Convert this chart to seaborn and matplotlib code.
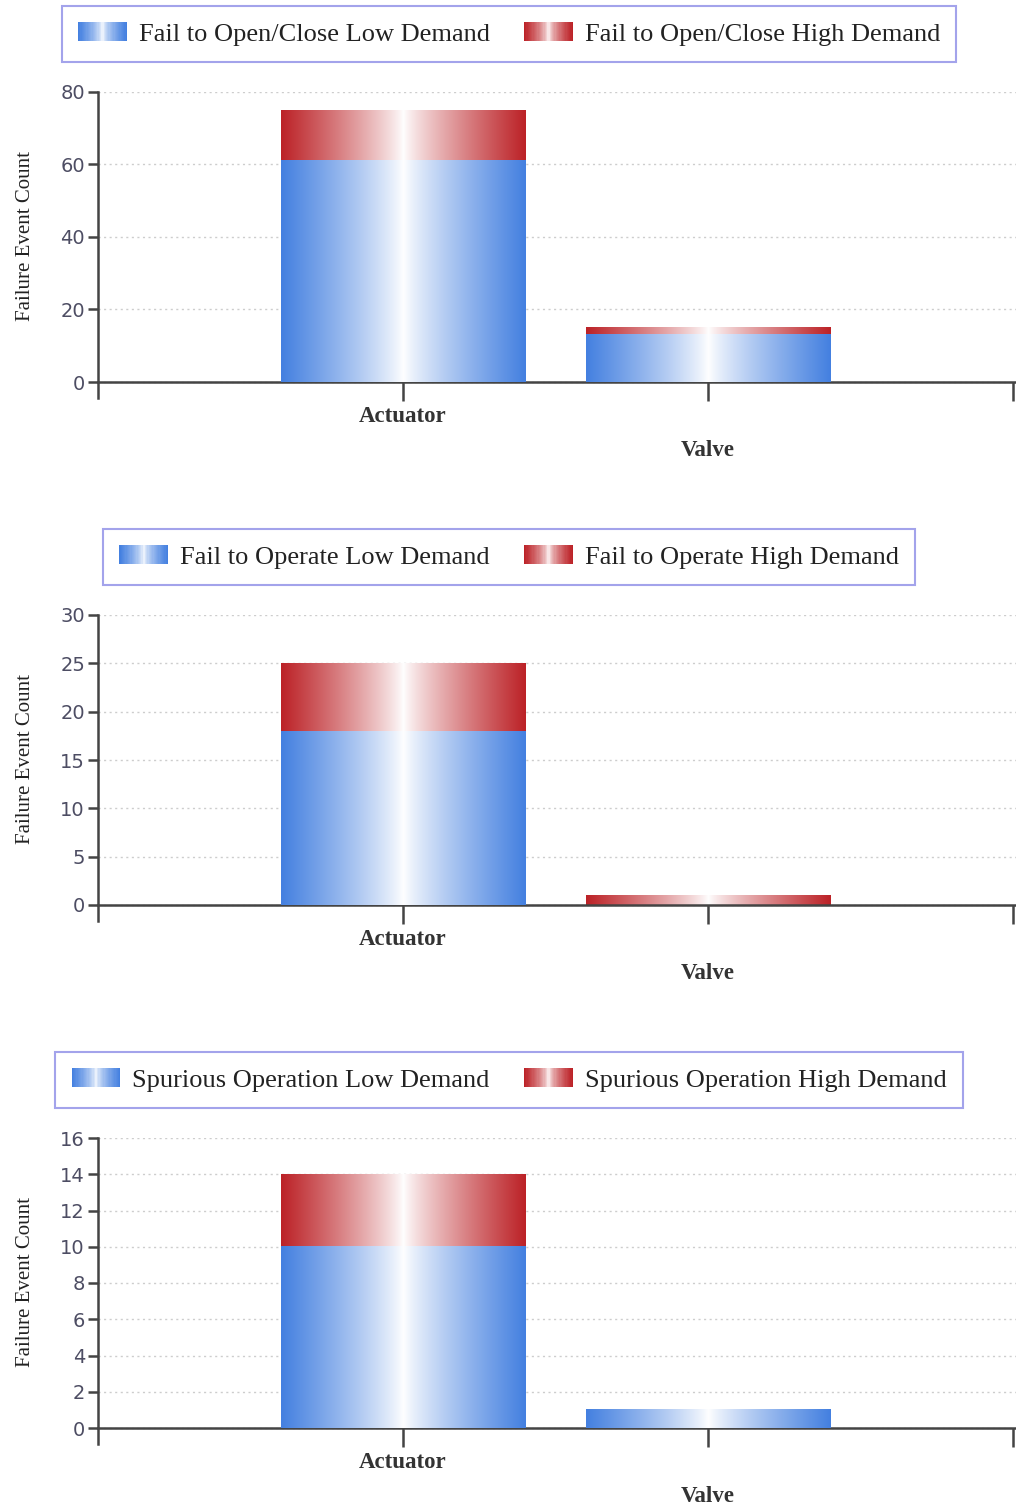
import numpy as np
import pandas as pd
import matplotlib
matplotlib.use("Agg")
import matplotlib.pyplot as plt
import matplotlib.transforms as mtransforms
from matplotlib.colors import to_rgb
from matplotlib.legend_handler import HandlerBase
from matplotlib.patches import Patch, Rectangle
import seaborn as sns

# ---- data -------------------------------------------------------------
components = ["Actuator", "Valve"]

open_close_low = [61, 13]
open_close_high = [14, 2]
operate_low = [18, 0]
operate_high = [7, 1]
spurious_low = [10, 1]
spurious_high = [4, 0]

open_close_labels = ["Fail to Open/Close Low Demand", "Fail to Open/Close High Demand"]
operate_labels = ["Fail to Operate Low Demand", "Fail to Operate High Demand"]
spurious_labels = ["Spurious Operation Low Demand", "Spurious Operation High Demand"]

y_tops = [80, 30, 16]
y_steps = [20, 5, 2]
y_label = "Failure Event Count"

# ---- style ------------------------------------------------------------
BLUE = "#4480e0"
RED = "#bc2227"
SPINE = "#444444"

sns.set_theme(style="white")
plt.rcParams["font.family"] = ["DejaVu Sans"]
SERIF = ["Liberation Serif", "DejaVu Serif"]


def gradient_rgb(color, n=256, power=0.85):
    """Horizontal fill: saturated at both edges, white in the middle."""
    u = np.linspace(0.0, 1.0, n)
    t = np.abs(2.0 * u - 1.0) ** power
    c = np.array(to_rgb(color))
    return (1.0 - t)[:, None] * np.ones(3) + t[:, None] * c


def fill_gradient(ax, patch, color, z):
    x, y = patch.get_x(), patch.get_y()
    w, h = patch.get_width(), patch.get_height()
    patch.set_facecolor("none")
    patch.set_edgecolor("none")
    if h <= 0:
        return
    img = gradient_rgb(color)[None, :, :]
    ax.imshow(img, extent=[x, x + w, y, y + h], aspect="auto",
              origin="lower", zorder=z, interpolation="bilinear")


class GradientHandler(HandlerBase):
    def create_artists(self, legend, orig_handle, xdescent, ydescent,
                       width, height, fontsize, trans):
        colors = gradient_rgb(orig_handle.get_facecolor(), n=40, power=0.6)
        n = len(colors)
        step = width / n
        arts = []
        for i, c in enumerate(colors):
            r = Rectangle((-xdescent + i * step, -ydescent), step * 1.05, height,
                          facecolor=c, edgecolor="none", lw=0, transform=trans)
            arts.append(r)
        return arts


panels = [
    (open_close_low, open_close_high, open_close_labels),
    (operate_low, operate_high, operate_labels),
    (spurious_low, spurious_high, spurious_labels),
]

fig = plt.figure(figsize=(10.16, 15.10), dpi=100)
ax_left = 97.5 / 1016
ax_width = 1.0 - ax_left
ax_height = 306 / 1510
ax_bottoms = [(1510 - 398) / 1510, (1510 - 921) / 1510, (1510 - 1444) / 1510]
spine_ext = 16 / 290  # left spine runs a little below zero

for (low, high, labels), top, step, bottom in zip(panels, y_tops, y_steps, ax_bottoms):
    ax = fig.add_axes([ax_left, bottom, ax_width, ax_height])

    total = [a + b for a, b in zip(low, high)]
    df = pd.DataFrame({"component": components, "low": low, "total": total})

    sns.barplot(data=df, x="component", y="total", order=components,
                color=RED, width=0.8, errorbar=None, ax=ax, zorder=2)
    n_red = len(ax.patches)
    sns.barplot(data=df, x="component", y="low", order=components,
                color=BLUE, width=0.8, errorbar=None, ax=ax, zorder=3)

    for i, p in enumerate(list(ax.patches)):
        if i < n_red:
            fill_gradient(ax, p, RED, 2)
        else:
            fill_gradient(ax, p, BLUE, 3)

    ax.set_xlim(-1, 2.01)
    ax.set_ylim(-top * spine_ext, top)
    ax.set_yticks(np.arange(0, top + step, step))
    ax.set_xticks([0, 1, 2])
    ax.set_xticklabels(components + [""])
    ax.set_xlabel("")

    ax.set_axisbelow(True)
    ax.yaxis.grid(True, linestyle=(0, (1.5, 2.5)), color="#cdcdcd", lw=1.0)
    ax.xaxis.grid(False)

    for side in ("top", "right"):
        ax.spines[side].set_visible(False)
    ax.spines["bottom"].set_position(("data", 0))
    for side in ("left", "bottom"):
        ax.spines[side].set_color(SPINE)
        ax.spines[side].set_linewidth(1.8)

    ax.tick_params(axis="y", direction="out", length=7, width=1.8, color=SPINE,
                   pad=2, labelsize=14, labelcolor="#4d4d63", left=True)
    ax.tick_params(axis="x", direction="out", length=14, width=1.8, color=SPINE,
                   pad=3, bottom=True)

    xlabels = ax.get_xticklabels()
    for lab in xlabels:
        lab.set_fontfamily(SERIF)
        lab.set_fontweight("bold")
        lab.set_fontsize(16.5)
        lab.set_color("#333333")
    # stagger the second category label below the first
    shift = mtransforms.ScaledTranslation(0, -0.34, fig.dpi_scale_trans)
    xlabels[1].set_transform(xlabels[1].get_transform() + shift)

    ax.set_ylabel(y_label, fontfamily=SERIF, fontsize=15, color="#222222")
    ax.yaxis.set_label_coords(-0.068, 0.53)

    handles = [Patch(facecolor=BLUE, label=labels[0]),
               Patch(facecolor=RED, label=labels[1])]
    leg = ax.legend(handles=handles, loc="center", bbox_to_anchor=(0.448, 1.19),
                    ncol=2, frameon=True, fancybox=False, shadow=False,
                    handler_map={Patch: GradientHandler()},
                    prop={"family": SERIF, "size": 19},
                    handlelength=1.85, handleheight=0.75, handletextpad=0.45,
                    columnspacing=1.3, borderpad=0.62)
    leg.get_frame().set_edgecolor("#8c8ce6")
    leg.get_frame().set_linewidth(1.5)
    for t in leg.get_texts():
        t.set_color("#222222")

fig.savefig("out.png", dpi=100)
